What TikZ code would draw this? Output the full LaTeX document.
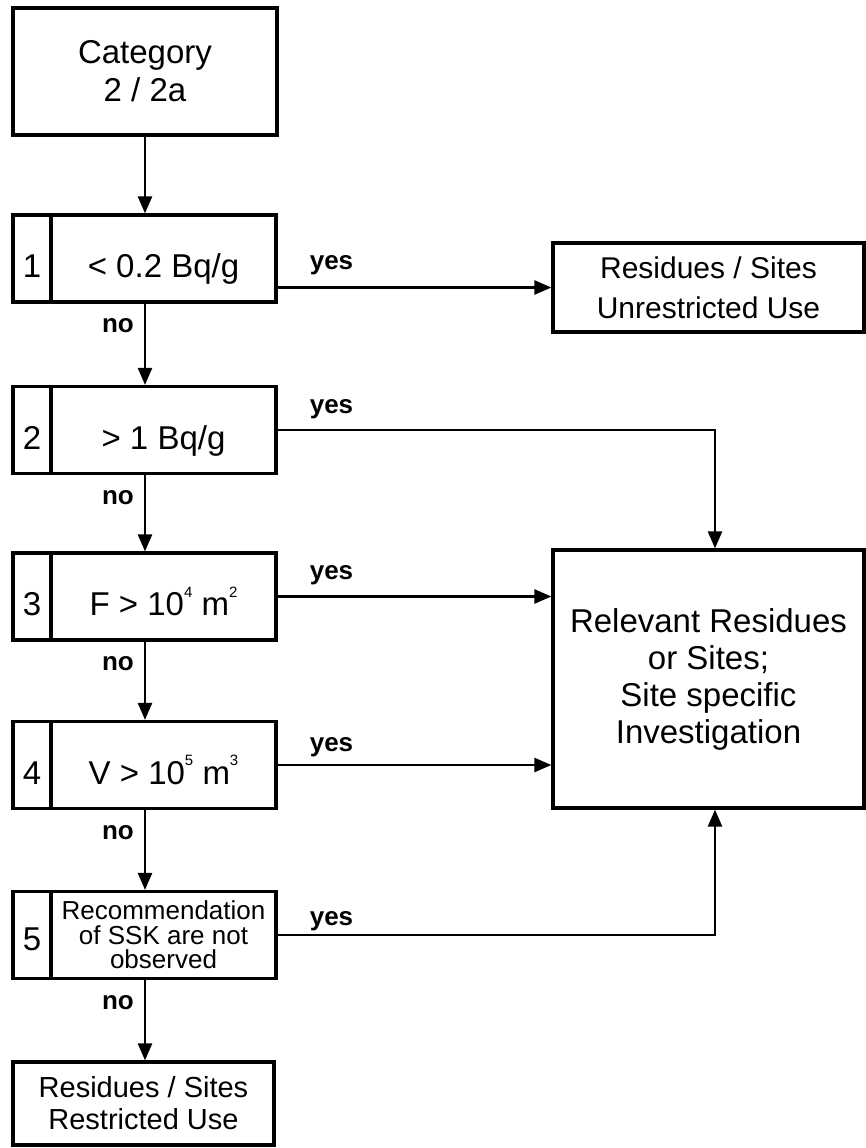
\documentclass[tikz,border=0pt]{standalone}
\usepackage{fontspec}
\setmainfont{Liberation Sans}
\usetikzlibrary{arrows.meta,calc}
\newcommand\fBig{\fontsize{33}{38}\selectfont}
\newcommand\fRel{\fontsize{33}{37}\selectfont}
\newcommand\fMid{\fontsize{30}{40}\selectfont}
\newcommand\fRes{\fontsize{29}{32}\selectfont}
\newcommand\fSmall{\fontsize{26}{24.5}\selectfont}
\newcommand\fLbl{\fontsize{26}{28}\selectfont\bfseries}
\newcommand\sups[1]{\raisebox{1.05ex}{\fontsize{15}{15}\selectfont #1}}
\begin{document}
\begin{tikzpicture}[x=1pt,y=-1pt,
  box/.style={draw, line width=3.2pt, inner sep=0pt, align=center},
  numcell/.style={box, minimum width=38pt, minimum height=87pt, font=\fBig, text height=38pt, text depth=0pt},
  condcell/.style={box, minimum width=225pt, minimum height=87pt, font=\fBig, text height=38pt, text depth=0pt},
  multicell/.style={box, minimum width=225pt, minimum height=87pt, font=\fSmall},
  arr/.style={line width=2.4pt, -{Triangle[length=17pt,width=14pt]}},
  lbl/.style={font=\fLbl, inner sep=0pt}]
\useasboundingbox (0,0) rectangle (866,1148);

% start box
\node[box, minimum width=264pt, minimum height=127pt, font=\fBig] (cat) at (145,71.5) {Category\\2 / 2a};

% decision boxes
\node[numcell] (n1) at (32,258.5) {1};
\node[condcell] (d1) at (163.5,258.5) {< 0.2 Bq/g};
\node[numcell] (n2) at (32,430) {2};
\node[condcell] (d2) at (163.5,430) {> 1 Bq/g};
\node[numcell] (n3) at (32,596.5) {3};
\node[condcell] (d3) at (163.5,596.5) {F > 10\sups{4} m\sups{2}};
\node[numcell] (n4) at (32,765) {4};
\node[condcell] (d4) at (163.5,765) {V > 10\sups{5} m\sups{3}};
\node[numcell, text height=30pt] (n5) at (32,935) {5};
\node[multicell] (d5) at (163.5,935) {Recommendation\\of SSK are not\\observed};

% outcome boxes
\node[box, minimum width=311pt, minimum height=89pt, font=\fMid] (unres) at (708.5,287.5) {Residues / Sites\\Unrestricted Use};
\node[box, minimum width=311pt, minimum height=258pt, font=\fRel] (rel) at (708.5,679) {Relevant Residues\\or Sites;\\Site specific\\Investigation};
\node[box, minimum width=261pt, minimum height=83pt, font=\fRes] (restr) at (143.5,1103.5) {Residues / Sites\\Restricted Use};

% vertical "no" chain
\draw[arr] (cat.south) -- (cat.south |- d1.north);
\draw[arr] (cat.south |- d1.south) -- (cat.south |- d2.north);
\draw[arr] (cat.south |- d2.south) -- (cat.south |- d3.north);
\draw[arr] (cat.south |- d3.south) -- (cat.south |- d4.north);
\draw[arr] (cat.south |- d4.south) -- (cat.south |- d5.north);
\draw[arr] (cat.south |- d5.south) -- (cat.south |- restr.north);

\node[lbl, anchor=base east] (no1) at ($(cat.south |- d1.south)+(-11,29)$) {no};
\node[lbl, anchor=base east] (no2) at ($(cat.south |- d2.south)+(-11,29)$) {no};
\node[lbl, anchor=base east] (no3) at ($(cat.south |- d3.south)+(-11,29)$) {no};
\node[lbl, anchor=base east] (no4) at ($(cat.south |- d4.south)+(-11,29)$) {no};
\node[lbl, anchor=base east] (no5) at ($(cat.south |- d5.south)+(-11,29)$) {no};

% "yes" connectors
\draw[arr] (d1.east |- unres.west) -- (unres.west);
\draw[arr] (d2.east) -| ($(rel.north)+(6.5,0)$);
\draw[arr] (d3.east) -- (d3.east -| rel.west);
\draw[arr] (d4.east) -- (d4.east -| rel.west);
\draw[arr] (d5.east) -| ($(rel.south)+(6.5,0)$);

\node[lbl, anchor=base west] (y1) at ($(d1.east |- unres.west)+(32,-18)$) {yes};
\node[lbl, anchor=base west] (y2) at ($(d2.east)+(32,-17)$) {yes};
\node[lbl, anchor=base west] (y3) at ($(d3.east)+(32,-17)$) {yes};
\node[lbl, anchor=base west] (y4) at ($(d4.east)+(32,-14)$) {yes};
\node[lbl, anchor=base west] (y5) at ($(d5.east)+(32,-10)$) {yes};
\end{tikzpicture}
\end{document}
